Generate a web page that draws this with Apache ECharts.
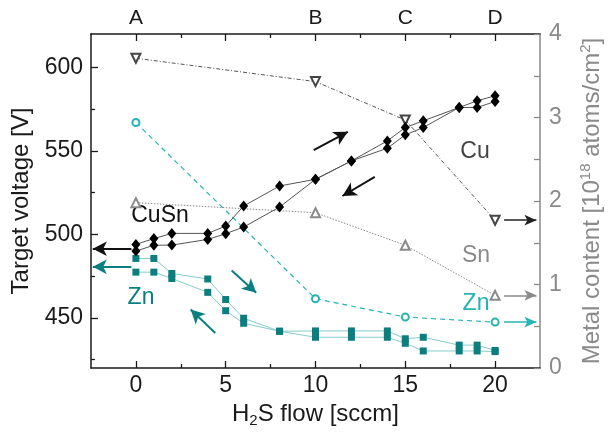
<!DOCTYPE html>
<html><head><meta charset="utf-8">
<script src="https://cdn.jsdelivr.net/npm/echarts@6/dist/echarts.min.js"></script>
<style>html,body{margin:0;padding:0;background:#fff}#c{width:612px;height:441px}</style>
</head><body><div id="c"></div>
<script>
// ---- data ----
const flowX = [0, 1, 2, 4, 5, 6, 8, 10, 12, 14, 15, 16, 18, 19, 20];
const cuSnUpper = [494, 497.5, 500.6, 500.6, 505, 517, 529, 533, 544, 556, 564, 568, 576, 580, 583];
const cuSnLower = [490, 493.5, 493.6, 497, 500.4, 504.4, 516.4, 533, 544, 551.6, 559.6, 564, 576, 576, 579.6];
const znUpper = [485.6, 485.6, 476.6, 473.3, 461, 449.8, 442, 442.2, 442.2, 442.2, 437.5, 438.4, 433.7, 433.7, 430.5];
const znLower = [477.4, 477.4, 473.6, 465.3, 454.3, 446.8, 442, 438.4, 438.4, 438.4, 434.8, 430.2, 430.2, 430.2, 429.8];
const contentX = [0, 10, 15, 20];
const cuContent = [3.71, 3.43, 2.97, 1.77];
const snContent = [1.98, 1.86, 1.47, 0.87];
const znContent = [2.94, 0.83, 0.61, 0.55];
const xTicks = [0, 5, 10, 15, 20];
const xMinorTicks = [2.5, 7.5, 12.5, 17.5];
const topTickValues = [0, 10, 15, 20];
const topTickLabels = ['A', 'B', 'C', 'D'];
const yTicks = [450, 500, 550, 600];
const yMinorTicks = [425, 475, 525, 575];
// arrows in data space: [[x0,y0],[x1,y1]]
const cuSnArrows = [[[-0.25, 491.4], [-2.4, 491.4]], [[9.9, 550.4], [11.8, 561.4]], [[13.3, 534.4], [11.5, 523]]];
const znVoltArrows = [[[-0.25, 480.6], [-2.4, 480.6]], [[5.33, 478.4], [6.7, 465]], [[4.42, 441], [3.05, 455]]];
const cuArrow = [[[20.5, 1.77], [22.3, 1.77]]];
const snArrow = [[[20.5, 0.87], [22.3, 0.87]]];
const znArrow = [[[20.5, 0.55], [22.3, 0.55]]];

// ---- style ----
const F = '"Liberation Sans", Arial, sans-serif';
const dark = '#1a1a1a';
const grey = '#8a8a8a';
const tealDark = '#0b7f7f';
const tealLight = '#86cccc';
const tealMid = '#25b3b3';
const FS = 23;
const TS = 24;

function pairs(xs, ys) { return xs.map((x, i) => [x, ys[i]]); }
function arrowData(list) { return list.map(a => [{ coord: a[0] }, { coord: a[1] }]); }
function ml(list, color, width, size) {
  return {
    silent: true, animation: false, symbol: ['none', 'arrow'], symbolSize: size,
    label: { show: false }, emphasis: { disabled: true },
    lineStyle: { color: color, width: width, type: 'solid' },
    data: arrowData(list)
  };
}

const chart = echarts.init(document.getElementById('c'));
const axisLineDark = { show: true, onZero: false, lineStyle: { color: dark, width: 1.5 } };
const noLine = { show: false, onZero: false };

chart.setOption({
  animation: false,
  backgroundColor: '#fff',
  grid: { left: 91, right: 66, top: 34, bottom: 73, containLabel: false },
  xAxis: [
    {
      type: 'value', position: 'bottom', min: -2.5, max: 22.5,
      axisLine: axisLineDark,
      axisTick: { inside: true, length: 7, customValues: xTicks, lineStyle: { color: dark, width: 1.3 } },
      axisLabel: { customValues: xTicks, color: dark, fontSize: FS, fontFamily: F, margin: 6 },
      splitLine: { show: false },
      name: '{a|H}{s|2}{a|S flow [sccm]}', nameLocation: 'middle', nameGap: 30,
      nameTextStyle: { rich: {
        a: { fontSize: TS, fontFamily: F, color: dark, lineHeight: 28 },
        s: { fontSize: 15, fontFamily: F, color: dark, verticalAlign: 'bottom', lineHeight: 28 }
      } }
    },
    {
      type: 'value', position: 'top', min: -2.5, max: 22.5,
      axisLine: axisLineDark,
      axisTick: { inside: true, length: 7, customValues: xTicks, lineStyle: { color: dark, width: 1.3 } },
      axisLabel: { customValues: topTickValues, color: dark, fontSize: 21, fontFamily: F, margin: 5,
        formatter: v => topTickLabels[topTickValues.indexOf(v)] || '' },
      splitLine: { show: false }
    },
    {
      type: 'value', position: 'bottom', min: -2.5, max: 22.5,
      axisLine: noLine,
      axisTick: { inside: true, length: 4, customValues: xMinorTicks, lineStyle: { color: dark, width: 1.3 } },
      axisLabel: { show: false }, splitLine: { show: false }
    },
    {
      type: 'value', position: 'top', min: -2.5, max: 22.5,
      axisLine: noLine,
      axisTick: { inside: true, length: 4, customValues: xMinorTicks, lineStyle: { color: dark, width: 1.3 } },
      axisLabel: { show: false }, splitLine: { show: false }
    }
  ],
  yAxis: [
    {
      type: 'value', position: 'left', min: 420, max: 620,
      axisLine: axisLineDark,
      axisTick: { inside: true, length: 7, customValues: yTicks, lineStyle: { color: dark, width: 1.3 } },
      axisLabel: { customValues: yTicks, color: dark, fontSize: FS, fontFamily: F, margin: 8 },
      splitLine: { show: false },
      name: 'Target voltage [V]', nameLocation: 'middle', nameRotate: 90, nameGap: 57,
      nameTextStyle: { fontSize: TS, fontFamily: F, color: dark }
    },
    {
      type: 'value', position: 'right', min: 0, max: 4, interval: 0.5,
      axisLine: { show: true, onZero: false, lineStyle: { color: grey, width: 1.5 } },
      axisTick: { inside: true, length: 6, lineStyle: { color: grey, width: 1.3 } },
      axisLabel: { color: grey, fontSize: FS, fontFamily: F, margin: 9,
        formatter: v => (Math.abs(v - Math.round(v)) < 1e-6 ? String(Math.round(v)) : '') },
      splitLine: { show: false },
      name: '{a|Metal content [10}{p|18}{a| atoms/cm}{p|2}{a|]}', nameLocation: 'middle', nameRotate: 90, nameGap: 38,
      nameTextStyle: { rich: {
        a: { fontSize: TS, fontFamily: F, color: grey, lineHeight: 28 },
        p: { fontSize: 15, fontFamily: F, color: grey, verticalAlign: 'top', lineHeight: 28 }
      } }
    },
    {
      type: 'value', position: 'left', min: 420, max: 620,
      axisLine: noLine,
      axisTick: { inside: true, length: 4, customValues: yMinorTicks, lineStyle: { color: dark, width: 1.3 } },
      axisLabel: { show: false }, splitLine: { show: false }
    }
  ],
  series: [
    {
      type: 'line', xAxisIndex: 0, yAxisIndex: 1, data: pairs(contentX, cuContent),
      symbol: 'emptyTriangle', symbolRotate: 180, symbolSize: 9,
      itemStyle: { color: '#444', borderWidth: 1.4 },
      lineStyle: { color: '#555', width: 1, type: [4, 2, 1, 2] }, z: 2,
      markLine: ml(cuArrow, '#222', 1.5, [8, 12])
    },
    {
      type: 'line', xAxisIndex: 0, yAxisIndex: 1, data: pairs(contentX, snContent),
      symbol: 'emptyTriangle', symbolSize: 9,
      itemStyle: { color: grey, borderWidth: 1.4 },
      lineStyle: { color: grey, width: 1, type: [1.5, 1.5] }, z: 2,
      markLine: ml(snArrow, grey, 1.5, [8, 12])
    },
    {
      type: 'line', xAxisIndex: 0, yAxisIndex: 1, data: pairs(contentX, znContent),
      symbol: 'emptyCircle', symbolSize: 7,
      itemStyle: { color: tealMid, borderWidth: 1.5 },
      lineStyle: { color: tealMid, width: 1.2, type: [5, 4] }, z: 2,
      markLine: ml(znArrow, tealMid, 1.5, [8, 12])
    },
    {
      type: 'line', xAxisIndex: 0, yAxisIndex: 0, data: pairs(flowX, znUpper),
      symbol: 'rect', symbolSize: 7, itemStyle: { color: tealDark },
      lineStyle: { color: tealLight, width: 1 }, z: 3,
      markLine: ml(znVoltArrows, tealDark, 2, [11, 14])
    },
    {
      type: 'line', xAxisIndex: 0, yAxisIndex: 0, data: pairs(flowX, znLower),
      symbol: 'rect', symbolSize: 7, itemStyle: { color: tealDark },
      lineStyle: { color: tealLight, width: 1 }, z: 3
    },
    {
      type: 'line', xAxisIndex: 0, yAxisIndex: 0, data: pairs(flowX, cuSnUpper),
      symbol: 'diamond', symbolSize: [9, 11], itemStyle: { color: '#000' },
      lineStyle: { color: '#555', width: 1 }, z: 4,
      markLine: ml(cuSnArrows, '#111', 2, [11, 14])
    },
    {
      type: 'line', xAxisIndex: 0, yAxisIndex: 0, data: pairs(flowX, cuSnLower),
      symbol: 'diamond', symbolSize: [9, 11], itemStyle: { color: '#000' },
      lineStyle: { color: '#555', width: 1 }, z: 4
    }
  ],
  graphic: [
    { type: 'text', x: 160, y: 216, style: { text: 'CuSn', fill: '#111', font: FS + 'px ' + F, textAlign: 'center', textVerticalAlign: 'middle', align: 'center', verticalAlign: 'middle' } },
    { type: 'text', x: 141, y: 298, style: { text: 'Zn', fill: tealDark, font: FS + 'px ' + F, textAlign: 'center', textVerticalAlign: 'middle', align: 'center', verticalAlign: 'middle' } },
    { type: 'text', x: 475, y: 152, style: { text: 'Cu', fill: '#444', font: FS + 'px ' + F, textAlign: 'center', textVerticalAlign: 'middle', align: 'center', verticalAlign: 'middle' } },
    { type: 'text', x: 476, y: 256, style: { text: 'Sn', fill: grey, font: FS + 'px ' + F, textAlign: 'center', textVerticalAlign: 'middle', align: 'center', verticalAlign: 'middle' } },
    { type: 'text', x: 476, y: 304, style: { text: 'Zn', fill: tealMid, font: FS + 'px ' + F, textAlign: 'center', textVerticalAlign: 'middle', align: 'center', verticalAlign: 'middle' } }
  ]
});
</script>
</body></html>
